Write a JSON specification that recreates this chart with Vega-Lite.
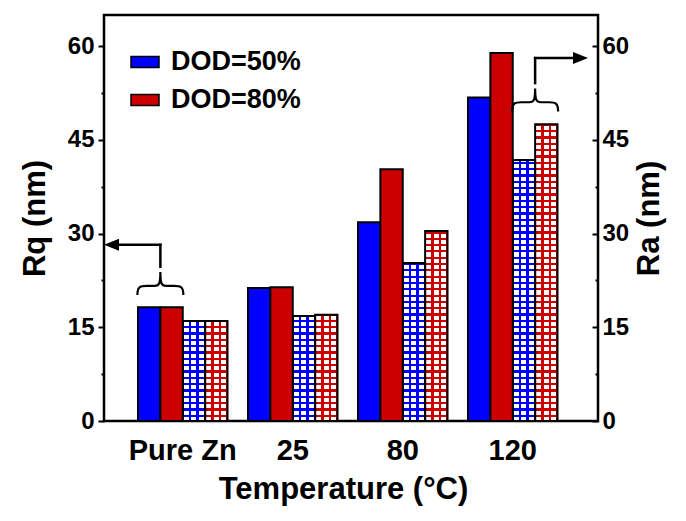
{
"$schema": "https://vega.github.io/schema/vega-lite/v6.json",
"width": 494, "height": 406,
"autosize": "none",
"padding": {"left": 104, "top": 15, "right": 88, "bottom": 100},
"background": "white",
"config": {
  "font": "Liberation Sans",
  "view": {"stroke": "black", "strokeWidth": 2.5},
  "axis": {"labelFont": "Liberation Sans", "titleFont": "Liberation Sans", "labelFontWeight": "bold", "titleFontWeight": "bold", "labelColor": "black", "titleColor": "black", "tickColor": "black", "domainColor": "black", "grid": false}
},
"datasets": {
  "bars": [
    {"Temperature": "Pure Zn", "series": "Rq50", "metric": "Rq", "DOD": "DOD=50%", "value": 18.2},
    {"Temperature": "Pure Zn", "series": "Rq80", "metric": "Rq", "DOD": "DOD=80%", "value": 18.2},
    {"Temperature": "Pure Zn", "series": "Ra50", "metric": "Ra", "DOD": "DOD=50%", "value": 16.0},
    {"Temperature": "Pure Zn", "series": "Ra80", "metric": "Ra", "DOD": "DOD=80%", "value": 16.0},
    {"Temperature": "25", "series": "Rq50", "metric": "Rq", "DOD": "DOD=50%", "value": 21.3},
    {"Temperature": "25", "series": "Rq80", "metric": "Rq", "DOD": "DOD=80%", "value": 21.4},
    {"Temperature": "25", "series": "Ra50", "metric": "Ra", "DOD": "DOD=50%", "value": 16.8},
    {"Temperature": "25", "series": "Ra80", "metric": "Ra", "DOD": "DOD=80%", "value": 17.0},
    {"Temperature": "80", "series": "Rq50", "metric": "Rq", "DOD": "DOD=50%", "value": 31.8},
    {"Temperature": "80", "series": "Rq80", "metric": "Rq", "DOD": "DOD=80%", "value": 40.3},
    {"Temperature": "80", "series": "Ra50", "metric": "Ra", "DOD": "DOD=50%", "value": 25.3},
    {"Temperature": "80", "series": "Ra80", "metric": "Ra", "DOD": "DOD=80%", "value": 30.4},
    {"Temperature": "120", "series": "Rq50", "metric": "Rq", "DOD": "DOD=50%", "value": 51.8},
    {"Temperature": "120", "series": "Rq80", "metric": "Rq", "DOD": "DOD=80%", "value": 58.9},
    {"Temperature": "120", "series": "Ra50", "metric": "Ra", "DOD": "DOD=50%", "value": 41.8},
    {"Temperature": "120", "series": "Ra80", "metric": "Ra", "DOD": "DOD=80%", "value": 47.5}
  ],
  "rules": [
    {"ax": -0.2034, "ay": 24.7, "ax2": -0.2034, "ay2": 28.2},
    {"ax": -0.2034, "ay": 28.2, "ax2": -0.64, "ay2": 28.2},
    {"ax": 3.2034, "ay": 54.1, "ax2": 3.2034, "ay2": 58.1},
    {"ax": 3.2034, "ay": 58.1, "ax2": 3.61, "ay2": 58.1}
  ],
  "braces": [
    {"ax": -0.2034, "ay": 22.0},
    {"ax": 3.2034, "ay": 51.4}
  ],
  "heads": [
    {"ax": -0.6477, "ay": 28.2, "dir": "left"},
    {"ax": 3.616, "ay": 58.1, "dir": "right"}
  ]
},
"layer": [
  {
    "data": {"name": "bars"},
    "encoding": {
      "x": {"field": "Temperature", "type": "nominal", "sort": ["Pure Zn", "25", "80", "120"],
        "scale": {"domain": ["Pure Zn", "25", "80", "120"], "paddingInner": 0.18636, "paddingOuter": 0.33864, "align": 0.4564},
        "axis": {"title": "Temperature (°C)", "titleX": 239, "labelAngle": 0, "ticks": false, "domain": false, "labelFontSize": 29, "titleFontSize": 31, "labelPadding": 15, "titlePadding": 9}},
      "xOffset": {"field": "series", "type": "nominal", "scale": {"domain": ["Rq50", "Rq80", "Ra50", "Ra80"], "paddingInner": 0, "paddingOuter": 0}},
      "y": {"field": "value", "type": "quantitative", "scale": {"domain": [0, 65], "nice": false},
        "axis": {"orient": "left", "title": "Rq (nm)", "values": [0, 7.5, 15, 22.5, 30, 37.5, 45, 52.5, 60], "labelExpr": "datum.value % 15 === 0 ? datum.label : ''", "labelOverlap": false, "labelFlush": false, "domain": false, "tickSize": {"condition": {"test": "datum.value % 15 === 0", "value": 6}, "value": 3}, "tickWidth": 2, "labelFontSize": 24, "titleFontSize": 31, "labelPadding": 4, "titlePadding": 16}}
    },
    "layer": [
      {
        "transform": [{"filter": "datum.metric === 'Ra'"}],
        "mark": {"type": "bar"},
        "encoding": {
          "color": {"field": "DOD", "type": "nominal", "scale": {"domain": ["DOD=50%", "DOD=80%"], "range": ["#0000ff", "#cc0000"]},
            "legend": {"title": null, "orient": "none", "legendX": 26, "legendY": 32, "symbolType": "M-1,-0.4H1V0.4H-1Z", "symbolSize": 784, "symbolStrokeColor": "black", "symbolStrokeWidth": 1.5, "symbolOpacity": 1, "labelFontSize": 27, "labelFontWeight": "bold", "labelFont": "Liberation Sans", "labelColor": "black", "labelOffset": 11, "rowPadding": 10, "padding": 0}}
        }
      },
      {
        "transform": [{"filter": "datum.metric === 'Ra'"}],
        "mark": {"type": "bar", "fill": {"gradient": "linear", "x1": 0, "y1": 0, "x2": 0, "y2": 1, "stops": [
{"offset":0,"color":"#fff0"},{"offset":0.0055,"color":"#fff0"},{"offset":0.0055,"color":"#fff"},{"offset":0.015625,"color":"#fff"},
{"offset":0.015625,"color":"#fff0"},{"offset":0.0211,"color":"#fff0"},{"offset":0.0211,"color":"#fff"},{"offset":0.03125,"color":"#fff"},
{"offset":0.03125,"color":"#fff0"},{"offset":0.0368,"color":"#fff0"},{"offset":0.0368,"color":"#fff"},{"offset":0.046875,"color":"#fff"},
{"offset":0.046875,"color":"#fff0"},{"offset":0.0524,"color":"#fff0"},{"offset":0.0524,"color":"#fff"},{"offset":0.0625,"color":"#fff"},
{"offset":0.0625,"color":"#fff0"},{"offset":0.068,"color":"#fff0"},{"offset":0.068,"color":"#fff"},{"offset":0.078125,"color":"#fff"},
{"offset":0.078125,"color":"#fff0"},{"offset":0.0836,"color":"#fff0"},{"offset":0.0836,"color":"#fff"},{"offset":0.09375,"color":"#fff"},
{"offset":0.09375,"color":"#fff0"},{"offset":0.0993,"color":"#fff0"},{"offset":0.0993,"color":"#fff"},{"offset":0.109375,"color":"#fff"},
{"offset":0.109375,"color":"#fff0"},{"offset":0.1149,"color":"#fff0"},{"offset":0.1149,"color":"#fff"},{"offset":0.125,"color":"#fff"},
{"offset":0.125,"color":"#fff0"},{"offset":0.1305,"color":"#fff0"},{"offset":0.1305,"color":"#fff"},{"offset":0.140625,"color":"#fff"},
{"offset":0.140625,"color":"#fff0"},{"offset":0.1461,"color":"#fff0"},{"offset":0.1461,"color":"#fff"},{"offset":0.15625,"color":"#fff"},
{"offset":0.15625,"color":"#fff0"},{"offset":0.1618,"color":"#fff0"},{"offset":0.1618,"color":"#fff"},{"offset":0.171875,"color":"#fff"},
{"offset":0.171875,"color":"#fff0"},{"offset":0.1774,"color":"#fff0"},{"offset":0.1774,"color":"#fff"},{"offset":0.1875,"color":"#fff"},
{"offset":0.1875,"color":"#fff0"},{"offset":0.193,"color":"#fff0"},{"offset":0.193,"color":"#fff"},{"offset":0.203125,"color":"#fff"},
{"offset":0.203125,"color":"#fff0"},{"offset":0.2086,"color":"#fff0"},{"offset":0.2086,"color":"#fff"},{"offset":0.21875,"color":"#fff"},
{"offset":0.21875,"color":"#fff0"},{"offset":0.2243,"color":"#fff0"},{"offset":0.2243,"color":"#fff"},{"offset":0.234375,"color":"#fff"},
{"offset":0.234375,"color":"#fff0"},{"offset":0.2399,"color":"#fff0"},{"offset":0.2399,"color":"#fff"},{"offset":0.25,"color":"#fff"},
{"offset":0.25,"color":"#fff0"},{"offset":0.2555,"color":"#fff0"},{"offset":0.2555,"color":"#fff"},{"offset":0.265625,"color":"#fff"},
{"offset":0.265625,"color":"#fff0"},{"offset":0.2711,"color":"#fff0"},{"offset":0.2711,"color":"#fff"},{"offset":0.28125,"color":"#fff"},
{"offset":0.28125,"color":"#fff0"},{"offset":0.2868,"color":"#fff0"},{"offset":0.2868,"color":"#fff"},{"offset":0.296875,"color":"#fff"},
{"offset":0.296875,"color":"#fff0"},{"offset":0.3024,"color":"#fff0"},{"offset":0.3024,"color":"#fff"},{"offset":0.3125,"color":"#fff"},
{"offset":0.3125,"color":"#fff0"},{"offset":0.318,"color":"#fff0"},{"offset":0.318,"color":"#fff"},{"offset":0.328125,"color":"#fff"},
{"offset":0.328125,"color":"#fff0"},{"offset":0.3336,"color":"#fff0"},{"offset":0.3336,"color":"#fff"},{"offset":0.34375,"color":"#fff"},
{"offset":0.34375,"color":"#fff0"},{"offset":0.3493,"color":"#fff0"},{"offset":0.3493,"color":"#fff"},{"offset":0.359375,"color":"#fff"},
{"offset":0.359375,"color":"#fff0"},{"offset":0.3649,"color":"#fff0"},{"offset":0.3649,"color":"#fff"},{"offset":0.375,"color":"#fff"},
{"offset":0.375,"color":"#fff0"},{"offset":0.3805,"color":"#fff0"},{"offset":0.3805,"color":"#fff"},{"offset":0.390625,"color":"#fff"},
{"offset":0.390625,"color":"#fff0"},{"offset":0.3961,"color":"#fff0"},{"offset":0.3961,"color":"#fff"},{"offset":0.40625,"color":"#fff"},
{"offset":0.40625,"color":"#fff0"},{"offset":0.4118,"color":"#fff0"},{"offset":0.4118,"color":"#fff"},{"offset":0.421875,"color":"#fff"},
{"offset":0.421875,"color":"#fff0"},{"offset":0.4274,"color":"#fff0"},{"offset":0.4274,"color":"#fff"},{"offset":0.4375,"color":"#fff"},
{"offset":0.4375,"color":"#fff0"},{"offset":0.443,"color":"#fff0"},{"offset":0.443,"color":"#fff"},{"offset":0.453125,"color":"#fff"},
{"offset":0.453125,"color":"#fff0"},{"offset":0.4586,"color":"#fff0"},{"offset":0.4586,"color":"#fff"},{"offset":0.46875,"color":"#fff"},
{"offset":0.46875,"color":"#fff0"},{"offset":0.4743,"color":"#fff0"},{"offset":0.4743,"color":"#fff"},{"offset":0.484375,"color":"#fff"},
{"offset":0.484375,"color":"#fff0"},{"offset":0.4899,"color":"#fff0"},{"offset":0.4899,"color":"#fff"},{"offset":0.5,"color":"#fff"},
{"offset":0.5,"color":"#fff0"},{"offset":0.5055,"color":"#fff0"},{"offset":0.5055,"color":"#fff"},{"offset":0.515625,"color":"#fff"},
{"offset":0.515625,"color":"#fff0"},{"offset":0.5211,"color":"#fff0"},{"offset":0.5211,"color":"#fff"},{"offset":0.53125,"color":"#fff"},
{"offset":0.53125,"color":"#fff0"},{"offset":0.5368,"color":"#fff0"},{"offset":0.5368,"color":"#fff"},{"offset":0.546875,"color":"#fff"},
{"offset":0.546875,"color":"#fff0"},{"offset":0.5524,"color":"#fff0"},{"offset":0.5524,"color":"#fff"},{"offset":0.5625,"color":"#fff"},
{"offset":0.5625,"color":"#fff0"},{"offset":0.568,"color":"#fff0"},{"offset":0.568,"color":"#fff"},{"offset":0.578125,"color":"#fff"},
{"offset":0.578125,"color":"#fff0"},{"offset":0.5836,"color":"#fff0"},{"offset":0.5836,"color":"#fff"},{"offset":0.59375,"color":"#fff"},
{"offset":0.59375,"color":"#fff0"},{"offset":0.5993,"color":"#fff0"},{"offset":0.5993,"color":"#fff"},{"offset":0.609375,"color":"#fff"},
{"offset":0.609375,"color":"#fff0"},{"offset":0.6149,"color":"#fff0"},{"offset":0.6149,"color":"#fff"},{"offset":0.625,"color":"#fff"},
{"offset":0.625,"color":"#fff0"},{"offset":0.6305,"color":"#fff0"},{"offset":0.6305,"color":"#fff"},{"offset":0.640625,"color":"#fff"},
{"offset":0.640625,"color":"#fff0"},{"offset":0.6461,"color":"#fff0"},{"offset":0.6461,"color":"#fff"},{"offset":0.65625,"color":"#fff"},
{"offset":0.65625,"color":"#fff0"},{"offset":0.6618,"color":"#fff0"},{"offset":0.6618,"color":"#fff"},{"offset":0.671875,"color":"#fff"},
{"offset":0.671875,"color":"#fff0"},{"offset":0.6774,"color":"#fff0"},{"offset":0.6774,"color":"#fff"},{"offset":0.6875,"color":"#fff"},
{"offset":0.6875,"color":"#fff0"},{"offset":0.693,"color":"#fff0"},{"offset":0.693,"color":"#fff"},{"offset":0.703125,"color":"#fff"},
{"offset":0.703125,"color":"#fff0"},{"offset":0.7086,"color":"#fff0"},{"offset":0.7086,"color":"#fff"},{"offset":0.71875,"color":"#fff"},
{"offset":0.71875,"color":"#fff0"},{"offset":0.7243,"color":"#fff0"},{"offset":0.7243,"color":"#fff"},{"offset":0.734375,"color":"#fff"},
{"offset":0.734375,"color":"#fff0"},{"offset":0.7399,"color":"#fff0"},{"offset":0.7399,"color":"#fff"},{"offset":0.75,"color":"#fff"},
{"offset":0.75,"color":"#fff0"},{"offset":0.7555,"color":"#fff0"},{"offset":0.7555,"color":"#fff"},{"offset":0.765625,"color":"#fff"},
{"offset":0.765625,"color":"#fff0"},{"offset":0.7711,"color":"#fff0"},{"offset":0.7711,"color":"#fff"},{"offset":0.78125,"color":"#fff"},
{"offset":0.78125,"color":"#fff0"},{"offset":0.7868,"color":"#fff0"},{"offset":0.7868,"color":"#fff"},{"offset":0.796875,"color":"#fff"},
{"offset":0.796875,"color":"#fff0"},{"offset":0.8024,"color":"#fff0"},{"offset":0.8024,"color":"#fff"},{"offset":0.8125,"color":"#fff"},
{"offset":0.8125,"color":"#fff0"},{"offset":0.818,"color":"#fff0"},{"offset":0.818,"color":"#fff"},{"offset":0.828125,"color":"#fff"},
{"offset":0.828125,"color":"#fff0"},{"offset":0.8336,"color":"#fff0"},{"offset":0.8336,"color":"#fff"},{"offset":0.84375,"color":"#fff"},
{"offset":0.84375,"color":"#fff0"},{"offset":0.8493,"color":"#fff0"},{"offset":0.8493,"color":"#fff"},{"offset":0.859375,"color":"#fff"},
{"offset":0.859375,"color":"#fff0"},{"offset":0.8649,"color":"#fff0"},{"offset":0.8649,"color":"#fff"},{"offset":0.875,"color":"#fff"},
{"offset":0.875,"color":"#fff0"},{"offset":0.8805,"color":"#fff0"},{"offset":0.8805,"color":"#fff"},{"offset":0.890625,"color":"#fff"},
{"offset":0.890625,"color":"#fff0"},{"offset":0.8961,"color":"#fff0"},{"offset":0.8961,"color":"#fff"},{"offset":0.90625,"color":"#fff"},
{"offset":0.90625,"color":"#fff0"},{"offset":0.9118,"color":"#fff0"},{"offset":0.9118,"color":"#fff"},{"offset":0.921875,"color":"#fff"},
{"offset":0.921875,"color":"#fff0"},{"offset":0.9274,"color":"#fff0"},{"offset":0.9274,"color":"#fff"},{"offset":0.9375,"color":"#fff"},
{"offset":0.9375,"color":"#fff0"},{"offset":0.943,"color":"#fff0"},{"offset":0.943,"color":"#fff"},{"offset":0.953125,"color":"#fff"},
{"offset":0.953125,"color":"#fff0"},{"offset":0.9586,"color":"#fff0"},{"offset":0.9586,"color":"#fff"},{"offset":0.96875,"color":"#fff"},
{"offset":0.96875,"color":"#fff0"},{"offset":0.9743,"color":"#fff0"},{"offset":0.9743,"color":"#fff"},{"offset":0.984375,"color":"#fff"},
{"offset":0.984375,"color":"#fff0"},{"offset":0.9899,"color":"#fff0"},{"offset":0.9899,"color":"#fff"},{"offset":1,"color":"#fff"}
        ]}},
        "encoding": {
          "y": {"datum": 0},
          "y2": {"datum": 64.8}
        }
      },
      {
        "transform": [{"filter": "datum.metric === 'Ra' && datum.DOD === 'DOD=50%'"}],
        "mark": {"type": "bar", "fill": {"gradient": "linear", "x1": 0, "y1": 0, "x2": 1, "y2": 0, "stops": [
          {"offset": 0, "color": "#0000ff"}, {"offset": 0.06, "color": "#0000ff"}, {"offset": 0.06, "color": "#0000ff00"}, {"offset": 0.27, "color": "#0000ff00"},
          {"offset": 0.27, "color": "#0000ff"}, {"offset": 0.39, "color": "#0000ff"}, {"offset": 0.39, "color": "#0000ff00"}, {"offset": 0.61, "color": "#0000ff00"},
          {"offset": 0.61, "color": "#0000ff"}, {"offset": 0.73, "color": "#0000ff"}, {"offset": 0.73, "color": "#0000ff00"}, {"offset": 0.94, "color": "#0000ff00"},
          {"offset": 0.94, "color": "#0000ff"}, {"offset": 1, "color": "#0000ff"}
        ]}}
      },
      {
        "transform": [{"filter": "datum.metric === 'Ra' && datum.DOD === 'DOD=80%'"}],
        "mark": {"type": "bar", "fill": {"gradient": "linear", "x1": 0, "y1": 0, "x2": 1, "y2": 0, "stops": [
          {"offset": 0, "color": "#cc0000"}, {"offset": 0.06, "color": "#cc0000"}, {"offset": 0.06, "color": "#cc000000"}, {"offset": 0.27, "color": "#cc000000"},
          {"offset": 0.27, "color": "#cc0000"}, {"offset": 0.39, "color": "#cc0000"}, {"offset": 0.39, "color": "#cc000000"}, {"offset": 0.61, "color": "#cc000000"},
          {"offset": 0.61, "color": "#cc0000"}, {"offset": 0.73, "color": "#cc0000"}, {"offset": 0.73, "color": "#cc000000"}, {"offset": 0.94, "color": "#cc000000"},
          {"offset": 0.94, "color": "#cc0000"}, {"offset": 1, "color": "#cc0000"}
        ]}}
      },
      {
        "transform": [{"filter": "datum.metric === 'Ra'"}],
        "mark": {"type": "bar", "fill": "transparent", "stroke": "black", "strokeWidth": 2}
      },
      {
        "transform": [{"filter": "datum.metric === 'Rq'"}],
        "mark": {"type": "bar", "stroke": "black", "strokeWidth": 2},
        "encoding": {
          "color": {"field": "DOD", "type": "nominal"}
        }
      }
    ]
  },
  {
    "layer": [
      {
        "data": {"name": "rules"},
        "mark": {"type": "rule", "strokeWidth": 2.5, "strokeCap": "square", "color": "black"},
        "encoding": {
          "x": {"field": "ax", "type": "quantitative", "scale": {"domain": [-0.7159, 3.775], "nice": false, "zero": false}, "axis": null},
          "x2": {"field": "ax2"},
          "y": {"field": "ay", "type": "quantitative", "scale": {"domain": [0, 65], "nice": false},
            "axis": {"orient": "right", "title": "Ra (nm)", "titleAngle": -90, "titleBaseline": "top", "values": [0, 7.5, 15, 22.5, 30, 37.5, 45, 52.5, 60], "labelExpr": "datum.value % 15 === 0 ? datum.label : ''", "labelOverlap": false, "labelFlush": false, "domain": false, "tickSize": {"condition": {"test": "datum.value % 15 === 0", "value": -6}, "value": -3}, "tickWidth": 2, "labelFontSize": 24, "titleFontSize": 31, "labelPadding": 10, "titlePadding": 6}},
          "y2": {"field": "ay2"}
        }
      },
      {
        "data": {"name": "braces"},
        "mark": {"type": "point", "shape": "M-1,0.5 C-1,0.15 -0.9,0.1 -0.6,0.1 L-0.25,0.1 C-0.05,0.1 0,0 0,-0.5 C0,0 0.05,0.1 0.25,0.1 L0.6,0.1 C0.9,0.1 1,0.15 1,0.5", "size": 2116, "filled": false, "stroke": "black", "strokeWidth": 2.2, "opacity": 1},
        "encoding": {
          "x": {"field": "ax", "type": "quantitative"},
          "y": {"field": "ay", "type": "quantitative"}
        }
      },
      {
        "data": {"name": "heads"},
        "mark": {"type": "point", "filled": true, "color": "black", "size": 225, "opacity": 1},
        "encoding": {
          "x": {"field": "ax", "type": "quantitative"},
          "y": {"field": "ay", "type": "quantitative"},
          "shape": {"field": "dir", "type": "nominal", "scale": {"domain": ["left", "right"], "range": ["M-1,0L1,-0.8L1,0.8Z", "M1,0L-1,-0.8L-1,0.8Z"]}, "legend": null}
        }
      }
    ]
  }
],
"resolve": {"scale": {"x": "independent"}, "axis": {"y": "independent"}}
}
